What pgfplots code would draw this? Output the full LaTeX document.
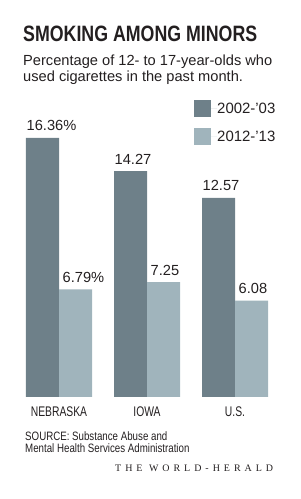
\documentclass[border=0pt]{standalone}
\usepackage{pgfplots}
\pgfplotsset{compat=1.18}
\usepackage{pgfplotstable}
\usepackage{fontspec}
\setmainfont{Liberation Sans}
\newfontfamily\cond[FakeStretch=0.8]{Liberation Sans}
\newfontfamily\condl[FakeStretch=0.74]{Liberation Sans}
\newfontfamily\herald[LetterSpace=40]{Liberation Serif}
\definecolor{darkbar}{RGB}{110,128,137}
\definecolor{lightbar}{RGB}{160,180,188}
\definecolor{txt}{RGB}{35,31,32}

\pgfplotstableread{
x y label
0 16.36 16.36\%
1 14.27 14.27
2 12.57 12.57
}\older
\pgfplotstableread{
x y label
0 6.79 6.79\%
1 7.25 7.25
2 6.08 6.08
}\newer

\begin{document}
\begin{tikzpicture}[x=1bp,y=1bp,text=txt]
\path[use as bounding box] (0,0) rectangle (300,499);
\node[anchor=base west,inner sep=0] at (23,457) {\fontsize{22.3}{24}\selectfont\cond\bfseries SMOKING AMONG MINORS};
\node[anchor=base west,inner sep=0,align=left] at (23,433) {\fontsize{14.7}{16}\selectfont Percentage of 12- to 17-year-olds who};
\node[anchor=base west,inner sep=0,align=left] at (23,417) {\fontsize{14.7}{16}\selectfont used cigarettes in the past month.};
\begin{axis}[
  at={(15bp,102bp)}, anchor=south west,
  scale only axis, width=264bp, height=285bp,
  xmin=-0.5, xmax=2.5, ymin=0, ymax=18,
  ybar=0pt, bar width=33bp,
  axis line style={draw=none},
  major tick length=0pt,
  ytick=\empty,
  xtick={0,1,2},
  xticklabels={NEBRASKA,IOWA,U.S.},
  xticklabel style={anchor=base, yshift=-20bp, font=\fontsize{14}{14}\selectfont\condl, text=txt},
  nodes near coords,
  point meta=explicit symbolic,
  every node near coord/.append style={anchor=base west, font=\fontsize{14.7}{15}\selectfont, text=txt, inner sep=0pt, yshift=7bp},
  legend style={at={(axis description cs:0.678,1.042)}, anchor=north west, draw=none, fill=none, inner sep=0pt,
    row sep=11bp, font=\fontsize{15}{15}\selectfont, text=txt,
    nodes={inner sep=0pt, anchor=west}},
  legend cell align=left,
  legend image code/.code={\fill[#1] (0bp,-8.5bp) rectangle (17bp,8.5bp); \path (0bp,0bp) -- (23bp,0bp);},
]
\addplot[fill=darkbar, draw=none, every node near coord/.append style={xshift=-16bp}] table[x=x,y=y,meta=label] {\older};
\addplot[fill=lightbar, draw=none, every node near coord/.append style={xshift=-13bp}] table[x=x,y=y,meta=label] {\newer};
\legend{2002-’03,2012-’13}
\end{axis}
\node[anchor=base west,inner sep=0] at (25,58) {\fontsize{12.2}{12}\selectfont\cond SOURCE: Substance Abuse and};
\node[anchor=base west,inner sep=0] at (25,46) {\fontsize{12.2}{12}\selectfont\cond Mental Health Services Administration};
\node[anchor=base west,inner sep=0] at (115,27) {\fontsize{10}{10}\selectfont\herald THE WORLD-HERALD};
\end{tikzpicture}
\end{document}
